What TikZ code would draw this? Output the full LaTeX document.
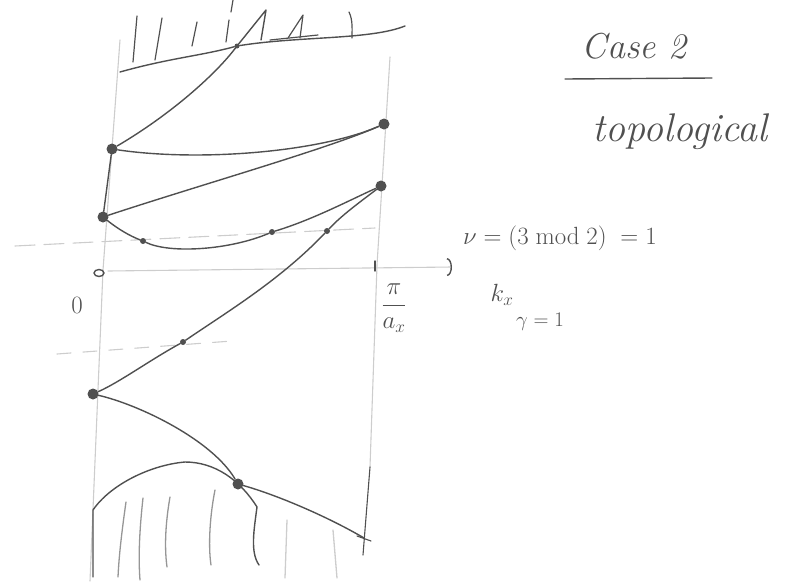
\documentclass[tikz,border=0pt]{standalone}
\usepackage{amsmath}
\usepackage{tikz}
\usetikzlibrary{arrows.meta,positioning}
\definecolor{penink}{RGB}{80,80,80}
\definecolor{guidegray}{RGB}{205,205,205}
\definecolor{hatchgray}{RGB}{150,150,150}

\begin{document}
\begin{tikzpicture}[x=1pt, y=-1pt, line cap=round, line join=round,
    every node/.style={text=penink},
    ink/.style={draw=penink, line width=1.4pt},
    guide/.style={draw=guidegray, line width=1.1pt},
    hatch/.style={draw=hatchgray, line width=1.3pt},
    bigdot/.style={circle, fill=penink, inner sep=0pt, minimum size=11pt},
    smalldot/.style={circle, fill=penink, inner sep=0pt, minimum size=6pt}]
  \useasboundingbox (0,0) rectangle (792,581);

  % zone boundaries and axes
  \draw[guide] (120,40) -- (103,270) -- (90,581);
  \draw[guide] (390,57) -- (377,265) -- (370,467);
  \draw[ink, line width=1.1pt] (370,467) -- (363,555);
  \draw[guide, dash pattern=on 20pt off 9pt] (15,246) -- (375,228);
  \draw[guide, dash pattern=on 14pt off 12pt] (57,354) -- (232,341);
  \draw[guide, -{Arc Barb[color=penink, length=5pt, width=18pt, line width=1.4pt]}] (108,271) -- (452,267);
  \draw[ink] (99,273) ellipse [x radius=5, y radius=3.5];
  \draw[ink] (375,261) -- (375,271);

  % bands
  \node[bigdot] (A) at (112,149) {};
  \node[bigdot] (B) at (384,124) {};
  \node[bigdot] (C) at (103,217) {};
  \node[bigdot] (D) at (381,186) {};
  \node[bigdot] (E) at (93,394) {};
  \node[bigdot] (F) at (238,484) {};
  \node[smalldot] (cd1) at (143,241) {};
  \node[smalldot] (cd2) at (272,232) {};
  \node[smalldot] (de1) at (327,231) {};
  \node[smalldot] (de2) at (183,342) {};
  \node[smalldot, minimum size=5pt] (cross) at (237,46) {};
  \coordinate (fend) at (364,538);

  \draw[ink] (A) .. controls (170,115) and (215,75) .. (cross) -- (266,10) -- (261,40);
  \draw[ink] (A) .. controls (200,162) and (320,152) .. (B);
  \draw[ink] (A) -- (C);
  \draw[ink] (C) .. controls (200,185) and (330,148) .. (B);
  \draw[ink] (C) .. controls (118,229) and (130,236) .. (cd1)
    .. controls (170,254) and (230,250) .. (cd2)
    .. controls (312,220) and (350,200) .. (D);
  \draw[ink] (D) .. controls (360,202) and (342,215) .. (de1)
    .. controls (280,280) and (230,310) .. (de2)
    .. controls (150,360) and (120,382) .. (E);
  \draw[ink] (E) .. controls (140,405) and (212,440) .. (F);
  \draw[ink] (F) .. controls (280,496) and (330,518) .. (fend);
  \draw[ink, line width=1.1pt] (357,536) -- (371,541);

  % occupied region, top
  \draw[ink] (120,72) .. controls (170,58) and (200,56) .. (cross)
    .. controls (300,36) and (370,40) .. (405,26);
  \draw[ink, line width=1.2pt] (137,16) -- (133,62);
  \draw[ink, line width=1.2pt] (162,18) -- (155,60);
  \draw[ink, line width=1.2pt] (197,22) -- (192,46);
  \draw[ink, line width=1.2pt] (233,0) -- (231,12);
  \draw[ink, line width=1.2pt] (229,20) -- (226,42);
  \draw[ink, line width=1.2pt] (288,38) -- (303,15) -- (300,38);
  \draw[ink, line width=1.2pt] (270,40) -- (318,35);
  \draw[ink, line width=1.2pt] (349,12) .. controls (353,20) and (352,30) .. (352,38);

  % occupied region, bottom
  \draw[ink] (93,577) -- (93,510) .. controls (110,485) and (150,465) .. (185,462)
    .. controls (215,462) and (240,480) .. (257,507)
    .. controls (254,530) and (250,552) .. (259,565);
  \draw[hatch] (126,502) .. controls (122,530) and (119,555) .. (118,577);
  \draw[hatch] (143,498) .. controls (140,525) and (138,555) .. (140,580);
  \draw[hatch] (170,497) .. controls (166,520) and (164,545) .. (167,567);
  \draw[hatch] (215,490) .. controls (210,515) and (208,545) .. (211,565);
  \draw[hatch, draw=guidegray] (287,520) -- (285,578);
  \draw[hatch, draw=guidegray] (333,530) -- (337,578);

  % labels
  \node[font=\fontsize{24}{28}\selectfont] (zero) at (77,305) {$0$};
  \node[font=\fontsize{24}{28}\selectfont] (edge) at (394,308) {$\dfrac{\pi}{a_x}$};
  \node[font=\fontsize{26}{30}\selectfont] (kx) at (502,295) {$k_x$};
  \node[font=\fontsize{23}{27}\selectfont] (nu) at (560,238) {$\nu=(3\bmod 2)\;=1$};
  \node[font=\fontsize{22}{26}\selectfont] (gam) at (540,322) {$\gamma=1$};
  \node[font=\fontsize{36}{40}\selectfont\itshape] (case) at (634,46) {Case 2};
  \draw[ink] (565,79) -- (712,78);
  \node[font=\fontsize{40}{44}\selectfont\itshape] (topo) at (680,132) {topological};
\end{tikzpicture}
\end{document}
